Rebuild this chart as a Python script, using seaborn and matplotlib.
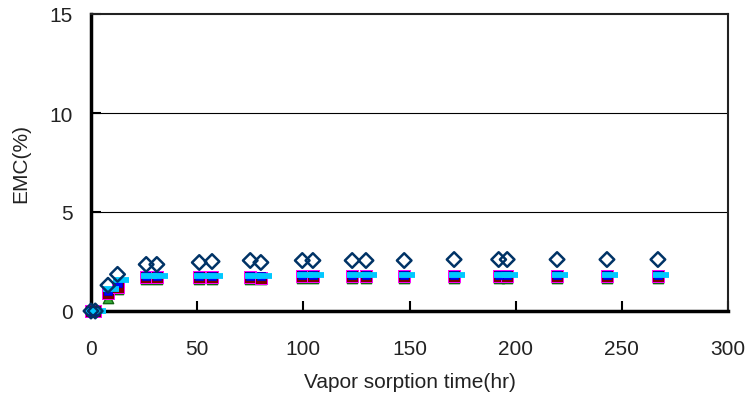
import numpy as np
import pandas as pd
import matplotlib
matplotlib.use("Agg")
import matplotlib.pyplot as plt
import seaborn as sns

# Data
time_hr = [0, 2, 8, 12.5, 26, 31, 51, 57, 75, 80, 99.5, 104.5,
           123, 129.5, 147.5, 171, 192, 196, 219.5, 243, 267]

emc_diamond = [0, 0, 1.3, 1.85, 2.35, 2.35, 2.45, 2.5, 2.55, 2.45, 2.55, 2.55,
               2.55, 2.55, 2.55, 2.6, 2.6, 2.6, 2.6, 2.6, 2.6]
emc_square = [0, 0, 0.9, 1.2, 1.7, 1.7, 1.7, 1.7, 1.7, 1.65, 1.75, 1.75,
              1.75, 1.75, 1.75, 1.75, 1.75, 1.75, 1.75, 1.75, 1.75]
emc_triangle = [0, 0, 0.65, 1.1, 1.6, 1.6, 1.6, 1.6, 1.6, 1.6, 1.65, 1.65,
                1.65, 1.65, 1.65, 1.65, 1.65, 1.65, 1.65, 1.65, 1.65]
emc_blue = [0, 0, 1.0, 1.4, 1.75, 1.75, 1.75, 1.75, 1.75, 1.75, 1.8, 1.8,
            1.8, 1.8, 1.8, 1.8, 1.8, 1.8, 1.8, 1.8, 1.8]
emc_cyan = [0, 0, 1.1, 1.55, 1.75, 1.75, 1.75, 1.75, 1.75, 1.75, 1.8, 1.8,
            1.8, 1.8, 1.8, 1.8, 1.8, 1.8, 1.8, 1.8, 1.8]

y_ticks = [0, 5, 10, 15]
x_ticks = [0, 50, 100, 150, 200, 250, 300]

sns.set_theme(style="white")
plt.rcParams["font.family"] = ["Liberation Sans", "DejaVu Sans"]

fig = plt.figure(figsize=(7.53, 4.10), dpi=100)
ax = fig.add_axes([91 / 753, 1 - 312 / 410, (728 - 91) / 753, (312 - 15) / 410])

df = pd.DataFrame({
    "time": time_hr,
    "diamond": emc_diamond,
    "square": emc_square,
    "triangle": emc_triangle,
    "blue": emc_blue,
    "cyan": emc_cyan,
})

# horizontal gridlines behind everything
for yv in y_ticks[1:-1]:
    ax.axhline(yv, color="black", lw=0.8, zorder=0)

sns.scatterplot(data=df, x="time", y="triangle", marker="^", s=55,
                color="#33aa33", edgecolor="#116611", linewidth=1, ax=ax,
                zorder=3, clip_on=False)
sns.scatterplot(data=df, x="time", y="square", marker="s", s=75,
                color="#800000", edgecolor="#ff00ff", linewidth=0.7, ax=ax,
                zorder=4, clip_on=False)
sns.scatterplot(data=df, x="time", y="blue", marker="s", s=35,
                color="#0000ff", edgecolor="#0000cc", linewidth=0.6, ax=ax,
                zorder=5, clip_on=False)
ax.plot(np.array(time_hr) + 1.5, emc_cyan, linestyle="none", marker="_",
        markersize=11.5, markeredgewidth=4.2, color="#00c8ff", zorder=6,
        clip_on=False)
sns.scatterplot(data=df, x="time", y="diamond", marker="D", s=55,
                facecolor="none", edgecolor="#003366", linewidth=1.8, ax=ax,
                zorder=7, clip_on=False)

ax.set_xlim(0, 300)
ax.set_ylim(0, 15)
ax.set_xticks(x_ticks)
ax.set_yticks(y_ticks)
ax.tick_params(axis="both", direction="in", length=7, width=1.5, colors="black",
               labelsize=15, left=True, bottom=True)
ax.tick_params(axis="y", pad=13)
ax.tick_params(axis="x", pad=20)
for lbl in ax.get_xticklabels() + ax.get_yticklabels():
    lbl.set_color("#222222")

for side in ["left", "bottom"]:
    ax.spines[side].set_linewidth(2.5)
    ax.spines[side].set_color("black")
for side in ["top", "right"]:
    ax.spines[side].set_linewidth(1.5)
    ax.spines[side].set_color("#222222")
    ax.spines[side].set_visible(True)

ax.set_xlabel("Vapor sorption time(hr)", fontsize=15, color="#222222", labelpad=10)
ax.set_ylabel("EMC(%)", fontsize=15, color="#222222", labelpad=14)

fig.savefig("out.png", dpi=100)
